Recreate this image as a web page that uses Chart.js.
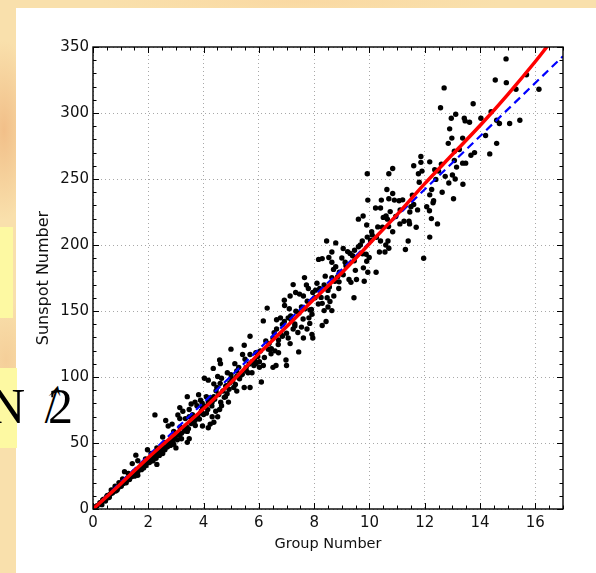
<!DOCTYPE html>
<html>
<head>
<meta charset="utf-8">
<script src="https://cdn.jsdelivr.net/npm/chart.js@4/dist/chart.umd.min.js"></script>
<style>
  html, body { margin:0; padding:0; width:596px; height:573px; overflow:hidden; }
  body {
    position:relative;
    background:
      radial-gradient(ellipse 30px 90px at 4px 130px, rgba(240,185,130,0.85), rgba(240,185,130,0) 100%),
      radial-gradient(ellipse 30px 60px at 6px 360px, rgba(242,195,140,0.6), rgba(242,195,140,0) 100%),
      radial-gradient(ellipse 200px 12px at 300px 2px, rgba(250,215,160,0.8), rgba(250,215,160,0) 100%),
      #f9e0ac;
  }
  #panel { position:absolute; left:16px; top:7.5px; width:580px; height:566px; background:#ffffff; }
  .ybox { position:absolute; background:#fdf9a2; }
  .gl { position:absolute; top:376px; font-family:"Liberation Serif","DejaVu Serif",serif; font-size:50px; line-height:60px; color:#000; white-space:nowrap; }
  #arr { font-family:"DejaVu Serif",serif; font-size:50px; transform:skewX(-18deg) scaleX(0.55); transform-origin:left bottom; }
  canvas { position:absolute; left:0; top:0; }
</style>
</head>
<body>
<div class="ybox" style="left:0;top:227px;width:12.7px;height:91px;"></div>
<div id="panel"></div>
<div class="ybox" style="left:0;top:368px;width:16.7px;height:80px;"></div>
<span class="gl" style="left:-11px;">N</span>
<span class="gl" id="arr" style="left:30px;">↑</span>
<span class="gl" style="left:48px;">2</span>
<canvas id="c" width="596" height="573"></canvas>
<script>
// ---- tick labels ----
const xTickValues = [0, 2, 4, 6, 8, 10, 12, 14, 16];
const yTickValues = [0, 50, 100, 150, 200, 250, 300, 350];

// ---- observed points (Group Number, Sunspot Number) ----
const groupNumber = [
 14.94,14.55,14.95,15.68,15.3,16.13,12.7,12.57,13.75,13.12,12.96,13.43,13.46,13.62,14.03,14.4,14.6,14.7,15.07,15.44,
 12.9,12.98,13.37,13.07,12.85,14.2,14.35,14.6,13.67,13.8,13.37,13.48,13.07,13.15,12.74,13.0,13.1,12.87,13.38,13.04,
 12.5,12.36,12.18,11.86,11.86,11.6,11.9,11.77,12.25,12.63,12.18,12.32,12.3,12.07,12.17,12.24,12.46,12.18,11.96,11.69,
 11.74,11.5,11.6,11.46,11.43,11.45,11.25,11.1,11.4,11.3,11.11,10.9,11.07,10.63,10.84,10.84,10.7,10.7,10.43,10.6,
 10.65,10.69,10.47,10.84,10.22,10.4,10.67,10.7,10.4,10.59,10.25,10.36,10.56,10.08,9.92,10.04,9.94,9.92,9.77,9.6,
 9.74,9.67,9.46,9.88,9.99,9.9,9.78,9.94,10.24,9.49,9.39,9.21,9.05,8.78,8.45,8.64,8.53,9.12,8.64,8.78,
 8.16,8.29,8.91,9.05,9.26,9.33,9.53,9.81,9.44,8.64,8.75,8.36,8.5,8.89,8.71,8.47,8.57,8.29,8.5,8.36,
 8.64,8.43,8.29,8.2,8.1,7.95,8.03,7.79,7.65,7.72,7.47,7.61,7.24,7.33,7.13,6.93,7.1,7.34,7.54,7.67,
 7.92,7.81,7.84,7.74,7.92,7.95,7.61,7.54,7.44,7.24,7.41,7.06,7.13,6.85,6.64,6.71,6.51,6.37,7.06,7.17,
 6.78,6.92,6.64,6.92,6.3,6.16,6.34,6.44,6.58,6.71,7.0,6.62,6.51,6.98,6.02,6.16,6.09,5.89,5.96,5.68,
 5.68,5.47,5.41,5.75,5.82,6.02,5.54,5.61,5.75,4.99,5.13,5.27,4.86,4.99,5.2,5.47,5.68,5.09,5.2,4.83,
 4.92,4.65,4.58,4.61,4.35,4.03,4.17,4.37,4.48,4.51,4.79,4.9,4.65,4.58,4.37,4.31,4.1,4.17,3.82,3.89,
 3.69,3.76,3.55,3.48,3.41,3.96,3.89,4.1,4.31,4.44,4.51,4.24,4.37,3.96,4.17,3.82,3.69,3.48,3.34,3.14,
 3.25,3.07,3.14,2.72,2.86,2.63,2.24,2.92,3.03,3.34,3.41,3.41,3.48,3.2,2.86,2.92,2.72,3.0,2.52,2.59,
 2.45,2.52,2.31,2.24,1.97,2.1,1.9,2.04,2.17,2.31,1.76,1.83,1.62,1.55,1.42,1.49,1.62,1.28,1.35,1.14,
 1.07,1.21,0.94,1.0,0.8,0.87,0.66,0.73,0.52,0.59,0.39,0.45,0.25,0.32,0.11,
 0.15,0.3,0.35,0.42,0.5,0.55,0.62,0.7,0.75,0.82,0.9,0.95,1.02,1.1,1.15,1.2,1.25,1.32,1.4,1.45,
 1.5,1.56,1.62,1.68,1.75,1.8,1.85,1.92,2.0,2.05,2.12,2.2,2.28,2.35,2.4,2.48,2.55,2.6,2.68,2.75,
 2.8,2.88,2.95,3.05,3.12,3.2,3.3,3.38,3.45,3.55,3.62,3.7,3.78,3.85,3.92,4.0,4.08,4.15,4.22,4.3,
 4.4,4.55,4.62,4.7,4.75,4.85,4.95,5.05,5.15,5.3,5.4,5.55,5.9,6.2,6.45,6.8,7.3,7.85,8.15,8.9,
 3.15,3.6,3.95,4.25,4.45,4.6,4.8,5.0,5.2,5.35,5.5,5.65,5.85,6.05,6.25,6.4,6.55,6.7,6.85,7.0,
 7.15,7.3,7.45,7.6,7.75,7.9,8.05,8.25,8.4,8.55,8.7,8.85,9.0,9.15,9.3,9.45,9.6,9.75,9.9,10.1,
 10.3,10.5,10.75,10.95,11.2,11.55,11.8,12.4,12.6,13.25
];
const sunspotNumber = [
 341,325,323,329,318,318,319,304,307,299,296,296,294,293,296,301,294.5,292,292,294.5,
 288,281,281,271,277,283,269,277,268,270,262,262,264,259,252,253,250,247,246,235,
 256,257,263,267,262.6,260,256,254,242,240,238,233.5,232,229,226,220,216,206,190,213.5,
 226.6,229,230.7,225,218,216,218,216,203,196.6,226.6,234,233.5,242,239,258,254,235,234,222,
 219.6,214,213.5,210,228,228,203,197.5,203,200,205.8,194.7,194.7,210,206,203.5,234,254,222,219.6,
 203,200,196,193,190.5,187.7,182.7,179.4,179.4,180.8,191.9,195,197.4,201.6,203,194.7,190.5,186.9,186.9,183.6,
 189.1,189.7,179.4,177.5,173.9,171.7,173.9,172.5,160,175.3,172.5,169.7,165.6,167,161.4,160,157.2,155.8,153,150.3,
 150.3,142,139,167,171,164,160,167,175.3,169.7,162.8,161.4,170,164,161.4,154.2,151.7,149.8,153,151.7,
 147.5,144.8,140.6,136.4,132.3,129.5,129.5,137.8,119,136.4,133.7,129.5,125.3,130.9,136.4,128,129.5,125.3,144.8,143.4,
 144.8,142,143.4,158.1,152.2,142.5,121.1,117.6,119.8,118.4,108.7,108.7,107.3,112.9,107.3,108.7,96.2,118.4,115.6,117,
 130.9,124,117,111.5,108.7,111.5,107.3,103.2,103.2,121.1,110.1,107.3,103.2,101.8,100.4,92.1,92.1,92.1,89.3,93.5,
 90.7,99,112.9,110.1,106.5,99,97.6,94.8,92.1,100.4,85.1,81,78.2,75.4,85.1,81,85.1,81,86.5,82.4,
 81,78.2,79.6,75.4,85.1,77,72.6,72.6,69.9,74,69.9,64.3,65.7,62.9,61.6,68.5,67.1,69.9,68.5,76.8,
 74,71.3,68.5,62.9,64.3,67.1,71.3,58.8,56,61.6,58.8,50.5,53.2,53.2,53.2,49.1,47.7,46.3,54.6,50.5,
 44.9,42.1,46.3,40.8,44.9,42.1,38,35.2,36.6,33.8,33.8,31.1,36.6,40.8,34.4,28.3,25.5,26.9,24.1,28.3,
 22.7,21.4,20,18.6,17.2,14.4,14.4,13,10.3,8.9,7.5,6.1,4.7,3.3,1.9,
 2.5,5,6.8,7.2,9.5,8.5,11.2,12.1,14.5,13.6,15.8,17.5,17.2,19.3,20.5,19.8,23.5,22.3,24.6,26.8,
 24.9,28.5,28.1,30.2,29.8,32.6,34.1,33,35.8,37.9,36.6,39.5,38.4,42.2,40.6,43.9,47.2,44.8,46.9,50.3,
 48.2,51.6,54.1,52.4,55.8,57.3,59.1,62.4,60.8,64.7,66.2,63.3,70.5,68.1,74.2,71.6,77.9,75.3,80.4,78.1,
 83.2,86.7,80.9,89.4,84.6,87.3,95.6,97.2,94.3,98.6,102.1,104.5,110.2,114.8,121.5,132.6,140.2,150.8,155.3,172.1,
 62.1,71.4,80.2,84.1,89.5,95.2,93.1,99.4,104.6,101.3,113.4,109.8,112.6,119.7,127.3,120.8,133.5,124.6,139.8,133.1,
 146.2,138.7,148.5,143.9,157.4,151.2,165.8,160.3,176.4,168.2,181.5,175.9,190.2,184.3,193.6,188.1,198.7,193.4,215.2,207.5,
 213.7,220.9,225.3,221.6,234.2,237.8,247.5,249.7,261.3,272.4
];

// ---- fitted curve (red) ----
const fitX = [0, 1, 2, 3, 4, 5, 6, 7, 8, 9, 10, 11, 12, 13, 14, 15, 16, 16.45];
const fitY = [0, 19, 38.9, 57.5, 76, 96, 117.7, 138, 159, 179, 201, 223, 246.5, 268.5, 290.5, 314, 339, 351];

// ---- proportional line (blue dashed) ----
const lineX = [0, 17];
const lineY = [0, 343];

const obs = groupNumber.map((x, i) => ({ x, y: sunspotNumber[i] }));
const fit = fitX.map((x, i) => ({ x, y: fitY[i] }));
const lin = lineX.map((x, i) => ({ x, y: lineY[i] }));

const framePlugin = {
  id: 'frame',
  afterDraw(chart) {
    const { ctx, chartArea: a, scales: { x, y } } = chart;
    ctx.save();
    ctx.strokeStyle = '#000';
    ctx.lineWidth = 1;
    ctx.beginPath();
    for (let v = 0; v <= 17.001; v += 0.5) {
      const px = Math.round(x.getPixelForValue(v)) + 0.5;
      const len = xTickValues.includes(v) ? 6 : 3.5;
      ctx.moveTo(px, a.bottom); ctx.lineTo(px, a.bottom - len);
      ctx.moveTo(px, a.top); ctx.lineTo(px, a.top + len);
    }
    for (let v = 0; v <= 350.001; v += 10) {
      const py = Math.round(y.getPixelForValue(v)) + 0.5;
      const len = yTickValues.includes(v) ? 6 : 3.5;
      ctx.moveTo(a.left, py); ctx.lineTo(a.left + len, py);
      ctx.moveTo(a.right, py); ctx.lineTo(a.right - len, py);
    }
    ctx.stroke();
    ctx.lineWidth = 1.4;
    ctx.strokeRect(a.left, a.top, a.right - a.left, a.bottom - a.top);
    ctx.restore();
  }
};

const tickFont = { family: 'DejaVu Sans', size: 15 };

new Chart(document.getElementById('c'), {
  type: 'scatter',
  data: {
    datasets: [
      { label: 'fit', type: 'line', data: fit, borderColor: '#ff0000', borderWidth: 3.5,
        pointRadius: 0, fill: false, cubicInterpolationMode: 'monotone', order: 0 },
      { label: 'linear', type: 'line', data: lin, borderColor: '#0000ff', borderWidth: 2.2,
        borderDash: [8, 5], pointRadius: 0, fill: false, order: 1 },
      { label: 'obs', data: obs, backgroundColor: '#000', borderColor: '#000', borderWidth: 0,
        pointRadius: 2.7, order: 2 }
    ]
  },
  options: {
    responsive: false,
    animation: false,
    devicePixelRatio: 1,
    layout: { padding: { left: 0, top: 47, right: 33, bottom: 0 } },
    plugins: { legend: { display: false }, tooltip: { enabled: false } },
    scales: {
      x: {
        type: 'linear', min: 0, max: 17,
        afterBuildTicks(s) { s.ticks = xTickValues.map(v => ({ value: v })); },
        ticks: { font: tickFont, color: '#111', padding: 5, maxRotation: 0 },
        grid: { color: '#a8a8a8', lineWidth: 1, drawTicks: false },
        border: { display: false, dash: [1, 3] },
        title: { display: true, text: 'Group Number', color: '#111',
                 font: { family: 'DejaVu Sans', size: 14.5 }, padding: { top: 0, bottom: 20 } },
        afterFit(s) { s.height = 64; }
      },
      y: {
        type: 'linear', min: 0, max: 350,
        afterBuildTicks(s) { s.ticks = yTickValues.map(v => ({ value: v })); },
        ticks: { font: tickFont, color: '#111', padding: 4 },
        grid: { color: '#a8a8a8', lineWidth: 1, drawTicks: false },
        border: { display: false, dash: [1, 3] },
        title: { display: true, text: 'Sunspot Number', color: '#111',
                 font: { family: 'DejaVu Sans', size: 16 }, padding: { top: 34, bottom: 0 } },
        afterFit(s) { s.width = 93; }
      }
    }
  },
  plugins: [framePlugin]
});
</script>
</body>
</html>
